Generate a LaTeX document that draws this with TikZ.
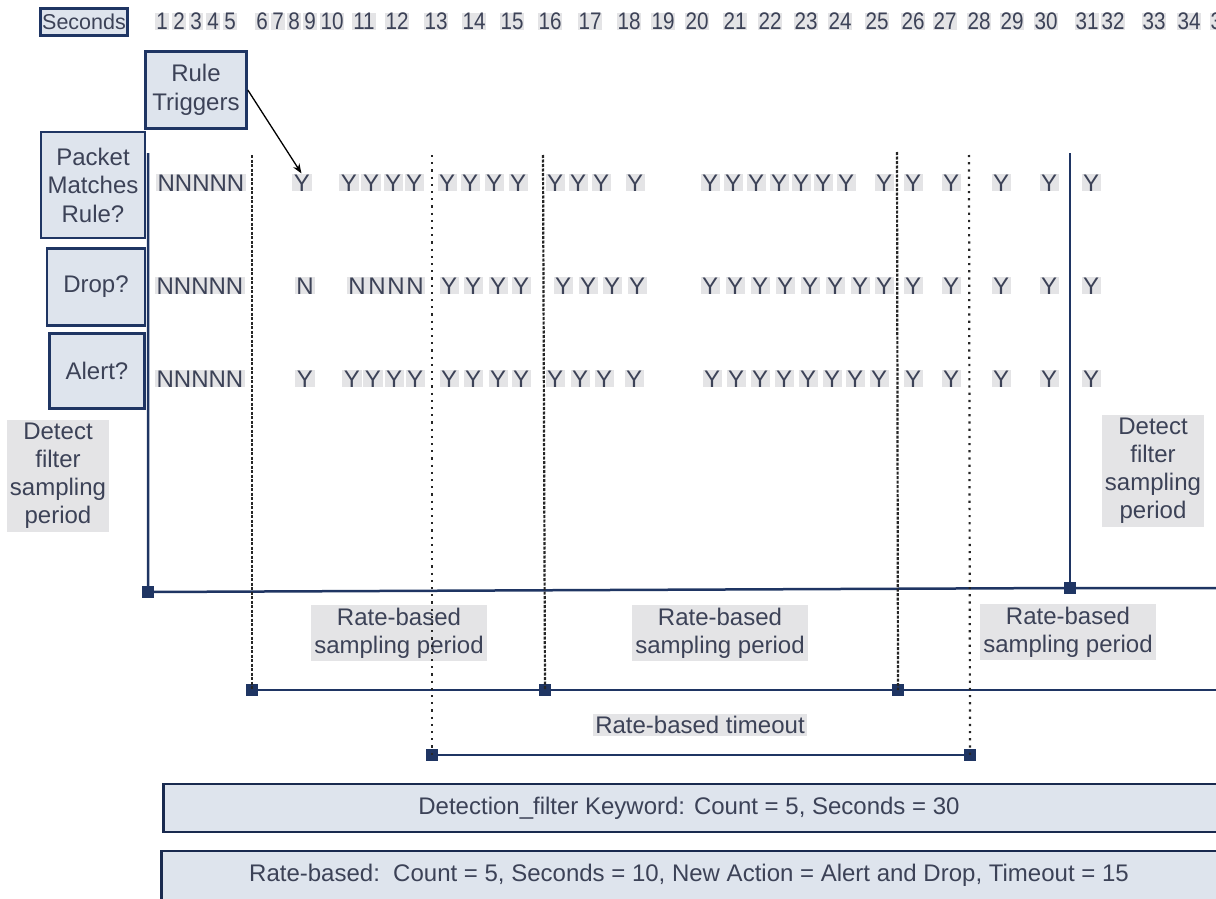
\documentclass[tikz,border=0pt]{standalone}
\usepackage{fontspec}
\setmainfont{Liberation Sans}
\newfontfamily\narrowsf[FakeStretch=0.86]{Liberation Sans}
\usetikzlibrary{arrows.meta,positioning}
\definecolor{navy}{HTML}{1F3563}
\definecolor{boxfill}{HTML}{DEE4ED}
\definecolor{txtgray}{HTML}{3C4257}
\definecolor{bggray}{HTML}{E4E4E6}
\tikzset{
  >={Stealth[length=3.4mm,width=2.6mm]},
  lblbox/.style={draw=navy,line width=2.6pt,fill=boxfill,text=txtgray,
    align=center,font=\fontsize{24}{28.5}\selectfont,inner sep=0pt},
  bgtxt/.style={fill=bggray,text=txtgray,align=center,inner sep=3pt,
    font=\fontsize{24}{28}\selectfont},
  yn/.style={fill=bggray,text=txtgray,inner xsep=1.5pt,inner ysep=0pt,
    anchor=base,font=\fontsize{24}{28}\selectfont},
  secnum/.style={fill=bggray,text=txtgray,inner xsep=1pt,inner ysep=0pt,
    anchor=base,font=\narrowsf\fontsize{24}{28}\selectfont},
  axis/.style={navy,line width=2.5pt},
  ratediv/.style={black!85,line width=2.2pt,dash pattern=on 3pt off 1.5pt},
  tmodiv/.style={black!85,line width=2.2pt,dash pattern=on 2.2pt off 5pt},
  sqmark/.style={fill=navy,rectangle,minimum size=12pt,inner sep=0pt},
  setbox/.style={draw=navy!80!black,line width=2.5pt,fill=boxfill,text=txtgray,
    font=\fontsize{24}{28}\selectfont},
}

\begin{document}
\begin{tikzpicture}[x=1pt,y=-1pt]
  \useasboundingbox (0,0) rectangle (1216,899);
  \clip (0,0) rectangle (1216,899);

  % row labels
  \node[lblbox,minimum width=87pt,minimum height=27pt,
    font=\fontsize{21.5}{26}\selectfont] (sec) at (84,22) {Seconds};
  \node[lblbox,minimum width=101pt,minimum height=77pt] (trig) at (196,90) {Rule\\Triggers};
  \node[lblbox,minimum width=104pt,minimum height=106pt] (pkt) at (93,185) {Packet\\Matches\\Rule?};
  \node[lblbox,minimum width=98pt,minimum height=77pt] (drop) at (96,287) {Drop?};
  \node[lblbox,minimum width=95pt,minimum height=75pt] (alert) at (97,371) {Alert?};

  % seconds
  \foreach \n/\x in {1/162,2/179,3/196,4/213,5/230,6/262,7/278,8/294,9/310,
      10/332,11/364,12/397,13/436,14/474,15/512,16/550,17/590,18/629,19/663,
      20/697,21/735,22/770,23/806,24/840,25/877,26/913,27/945,28/979,29/1012,
      30/1046,31/1087,32/1113,33/1154,34/1189,35/1222}
    \node[secnum] (s\n) at (\x,30) {\n};

  % detect filter period
  \node[bgtxt] (dfl) at (58,476) {Detect\\filter\\sampling\\period};
  \node[bgtxt] (dfr) at (1153,471) {Detect\\filter\\sampling\\period};

  % rate-based labels
  \node[bgtxt] (rb1) at (399,633) {Rate-based\\sampling period};
  \node[bgtxt] (rb2) at (720,633) {Rate-based\\sampling period};
  \node[bgtxt] (rb3) at (1068,632) {Rate-based\\sampling period};
  \node[bgtxt,inner sep=2pt] (tmo) at (700,725) {Rate-based timeout};

  % packet matches rule?
  \node[yn] (m0) at (201,191) {NNNNN};
  \foreach \x [count=\i] in {302,349,371,393,414,447,470,494,518,555,578,601,635,
      710,733,756,779,801,823,846,884,913,951,1001,1049,1091}
    \node[yn] (m\i) at (\x,191) {Y};
  % drop?
  \node[yn] (d0) at (200,294) {NNNNN};
  \foreach \x [count=\i] in {305,357,377,396,415}
    \node[yn] (dn\i) at (\x,294) {N};
  \foreach \x [count=\i] in {449,473,498,521,563,588,612,637,
      710,735,760,785,810,835,860,884,913,951,1001,1049,1091}
    \node[yn] (d\i) at (\x,294) {Y};
  % alert?
  \node[yn] (a0) at (200,387) {NNNNN};
  \foreach \x [count=\i] in {305,352,373,394,415,449,473,498,521,555,580,604,634,
      712,736,760,784,808,832,855,879,913,951,1001,1049,1091}
    \node[yn] (a\i) at (\x,387) {Y};

  \draw[->,line width=1.3pt,shorten >=1pt] (trig.east) -- (m1.north);

  % detection filter window
  \coordinate (dtop) at (148,153);
  \node[sqmark] (dbeg) at (148,592) {};
  \node[sqmark] (dend) at (1070,588) {};
  \coordinate (dtop2) at (1070,153);
  \coordinate (dout) at (1216,588);
  \draw[axis] (dtop) -- (dbeg.center) -- (dend.center) -- (dout);
  \draw[axis] (dtop2) -- (dend.center);

  % rate-based sampling periods
  \node[sqmark] (r1) at (252,690) {};
  \node[sqmark] (r2) at (545,690) {};
  \node[sqmark] (r3) at (898,690) {};
  \coordinate (rout) at (1216,690);
  \draw[axis] (r1.center) -- (r2.center) -- (r3.center) -- (rout);
  \coordinate (r1t) at (252,155);
  \coordinate (r2t) at (543,155);
  \coordinate (r3t) at (897,152);
  \draw[ratediv] (r1t) -- (r1.center);
  \draw[ratediv] (r2t) -- (r2.center);
  \draw[ratediv] (r3t) -- (r3.center);

  % rate-based timeout
  \node[sqmark] (t1) at (432,755) {};
  \node[sqmark] (t2) at (970,755) {};
  \draw[axis,line width=2pt] (t1.center) -- (t2.center);
  \coordinate (t1t) at (432,155);
  \coordinate (t2t) at (969,155);
  \draw[tmodiv] (t1t) -- (t1.center);
  \draw[tmodiv] (t2t) -- (t2.center);

  % settings
  \node[setbox,minimum width=1080pt,minimum height=48pt,anchor=west] (kw) at (162,808) {};
  \node[text=txtgray,font=\fontsize{24}{28}\selectfont] (kwt) at (689,808)
    {Detection\_filter Keyword: Count = 5, Seconds = 30};
  \node[setbox,minimum width=1080pt,minimum height=50pt,anchor=west] (rb) at (160,876) {};
  \node[text=txtgray,font=\fontsize{24}{28}\selectfont] (rbt) at (689,875)
    {Rate-based:\ \ Count = 5, Seconds = 10, New Action = Alert and Drop, Timeout = 15};
\end{tikzpicture}
\end{document}
